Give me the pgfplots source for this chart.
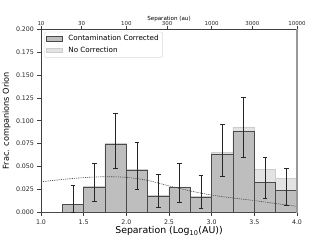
\documentclass[border=0pt]{standalone}
\usepackage{pgfplots}
\pgfplotsset{compat=1.18}
\usepackage{fontspec}
\setmainfont{DejaVu Sans}
\definecolor{darkbar}{HTML}{BEBEBE}
\definecolor{darkedge}{HTML}{4A4A4A}
\definecolor{lightbar}{HTML}{E3E3E3}
\definecolor{lightedge}{HTML}{CDCDCD}
\definecolor{spine}{HTML}{404040}
\begin{document}
\begin{tikzpicture}
\pgfplotsset{
  common/.style={
    scale only axis, width=256bp, height=183.5bp,
    xmin=1, xmax=4, ymin=0, ymax=0.2,
    tick align=outside, major tick length=3.5bp,
    tick style={spine, line width=0.6bp},
    axis line style={spine, line width=0.7bp},
    /pgf/number format/assume math mode=true,
    tick label style={font=\fontsize{6.3}{7}\selectfont, text=black!85},
  }
}
\begin{axis}[common,
  at={(0,0)}, anchor=south west,
  xtick pos=bottom, ytick pos=left,
  xtick={1,1.5,2,2.5,3,3.5,4},
  ytick={0,0.025,0.05,0.075,0.1,0.125,0.15,0.175,0.2},
  xticklabel style={/pgf/number format/.cd, fixed, fixed zerofill, precision=1},
  yticklabel style={/pgf/number format/.cd, fixed, fixed zerofill, precision=3},
  scaled y ticks=false,
  xlabel={Separation (Log\textsubscript{10}(AU))},
  ylabel={Frac. companions Orion},
  xlabel style={font=\fontsize{9.4}{10}\selectfont, yshift=5bp},
  ylabel style={font=\fontsize{8.2}{9}\selectfont, yshift=-1.5bp},
  legend style={at={(0.012,0.985)}, anchor=north west, draw=black!15, rounded corners=1.5pt,
    font=\fontsize{7.2}{8}\selectfont, row sep=0.5bp, inner xsep=2bp, inner ysep=1.5bp,
    /tikz/every odd column/.append style={column sep=3.5bp}},
  legend cell align=left,
]
\addplot[ybar, bar width=0.25, bar shift=0pt, fill=lightbar, draw=lightedge, line width=0.7bp, forget plot]
coordinates {(1.125,0) (1.375,0.0090) (1.625,0.0280) (1.875,0.0752) (2.125,0.0468) (2.375,0.0182)
 (2.625,0.0278) (2.875,0.0175) (3.125,0.0655) (3.375,0.0930) (3.625,0.0466) (3.875,0.0367)};
\addplot[ybar, bar width=0.25, bar shift=0pt, fill=darkbar, draw=darkedge, line width=0.7bp, forget plot]
coordinates {(1.125,0) (1.375,0.0090) (1.625,0.0275) (1.875,0.0745) (2.125,0.0460) (2.375,0.0180)
 (2.625,0.0272) (2.875,0.0170) (3.125,0.0638) (3.375,0.0886) (3.625,0.0330) (3.875,0.0238)};
\addplot[smooth, dash pattern=on 1.2bp off 1bp, black!70, line width=0.6bp, forget plot]
coordinates {(1.0,0.0335) (1.25,0.0360) (1.5,0.0380) (1.75,0.0390) (2.0,0.0383) (2.25,0.0350)
 (2.5,0.0290) (2.75,0.0235) (3.0,0.0190) (3.25,0.0158) (3.5,0.0130) (3.75,0.0098) (4.0,0.0067)};
\addplot[draw=none, mark=none, forget plot,
  error bars/.cd, y dir=both, y explicit,
  error bar style={draw=black!85, line width=0.7bp},
  error mark options={rotate=90, mark size=2.3bp, line width=0.7bp, draw=black!85}]
coordinates {
 (1.375,0.0150) +- (0,0.0150)
 (1.625,0.0330) +- (0,0.0210)
 (1.875,0.0780) +- (0,0.0300)
 (2.125,0.0510) +- (0,0.0260)
 (2.375,0.02385) +- (0,0.01815)
 (2.625,0.03275) +- (0,0.02125)
 (2.875,0.02275) +- (0,0.01825)
 (3.125,0.0678) +- (0,0.0288)
 (3.375,0.0925) +- (0,0.0325)
 (3.625,0.0380) +- (0,0.0225)
 (3.875,0.0283) +- (0,0.0201)
};
\addlegendimage{legend image code/.code={\draw[sharp corners, fill=darkbar, draw=darkedge, line width=0.7bp] (0bp,-2.4bp) rectangle (16bp,2.4bp);}}
\addlegendentry{Contamination Corrected}
\addlegendimage{legend image code/.code={\draw[sharp corners, fill=lightbar, draw=lightedge, line width=0.7bp] (0bp,-2.4bp) rectangle (16bp,2.4bp);}}
\addlegendentry{No Correction}
\node[font=\fontsize{9.9}{11}\selectfont, anchor=base] at (rel axis cs:0.5,1) [yshift=16bp] {Orion Class 0 - Class 0};
\end{axis}
\begin{axis}[common,
  at={(0,0)}, anchor=south west,
  axis x line*=top, axis y line*=right,
  x axis line style={-, spine, line width=0.7bp},
  y axis line style={-, draw=black!40, line width=1.6bp},
  ytick=\empty,
  xtick={1,1.47712,2,2.47712,3,3.47712,4},
  xticklabels={10,30,100,300,1000,3000,10000},
  xticklabel style={font=\fontsize{5.5}{6}\selectfont, yshift=-3.2bp},
  xlabel={Separation (au)},
  xlabel style={font=\fontsize{5.6}{6}\selectfont, yshift=-7.5bp},
]
\end{axis}
\pgfresetboundingbox
\useasboundingbox (-41bp,-27.5bp) rectangle (289bp,212.5bp);
\end{tikzpicture}
\end{document}
